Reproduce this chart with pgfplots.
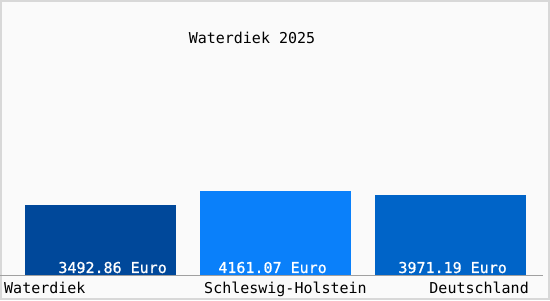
\documentclass[border=0pt]{standalone}
\usepackage{fontspec}
\setmainfont[FakeBold=0.8,AutoFakeBold=false]{DejaVu Sans Mono}
\usepackage{pgfplots}
\pgfplotsset{compat=1.18}
\definecolor{bgc}{HTML}{FAFAFA}
\definecolor{frame}{HTML}{D8D8D8}
\definecolor{barA}{HTML}{00489A}
\definecolor{barB}{HTML}{0A80FA}
\definecolor{barC}{HTML}{0064C8}
\definecolor{axc}{HTML}{A0A0A0}
\begin{document}
\begin{tikzpicture}[x=1bp,y=1bp]
\fontsize{15bp}{18bp}\selectfont
\useasboundingbox (0,0) rectangle (550,300);
\fill[frame] (0,0) rectangle (550,300);
\fill[bgc] (2,2) rectangle (548,298);
\begin{axis}[
  at={(0,25bp)}, anchor=south west,
  scale only axis, width=550bp, height=275bp,
  xmin=-0.5743, xmax=2.5686, ymin=0, ymax=13670,
  axis lines=none, clip=false,
  ybar, bar width=0.863, bar shift=0pt,
]
\addplot[fill=barA, draw=none] coordinates {(0,3492.86)};
\addplot[fill=barB, draw=none] coordinates {(1,4161.07)};
\addplot[fill=barC, draw=none] coordinates {(2,3971.19)};
\draw[axc, line width=1bp] (axis cs:-0.5743,0) -- (axis cs:2.527,0);
\node[anchor=base east, inner sep=0, text=white] at (axis cs:0.380,100) {3492.86 Euro};
\node[anchor=base east, inner sep=0, text=white] at (axis cs:1.294,100) {4161.07 Euro};
\node[anchor=base east, inner sep=0, text=white] at (axis cs:2.323,100) {3971.19 Euro};
\end{axis}
\node[anchor=base west, inner sep=0] at (4,7) {\bfseries Waterdiek};
\node[anchor=base, inner sep=0] at (285.5,7) {\bfseries Schleswig-Holstein};
\node[anchor=base east, inner sep=0] at (529,7) {\bfseries Deutschland};
\node[anchor=base, inner sep=0] at (252,257) {\bfseries Waterdiek 2025};
\end{tikzpicture}
\end{document}
